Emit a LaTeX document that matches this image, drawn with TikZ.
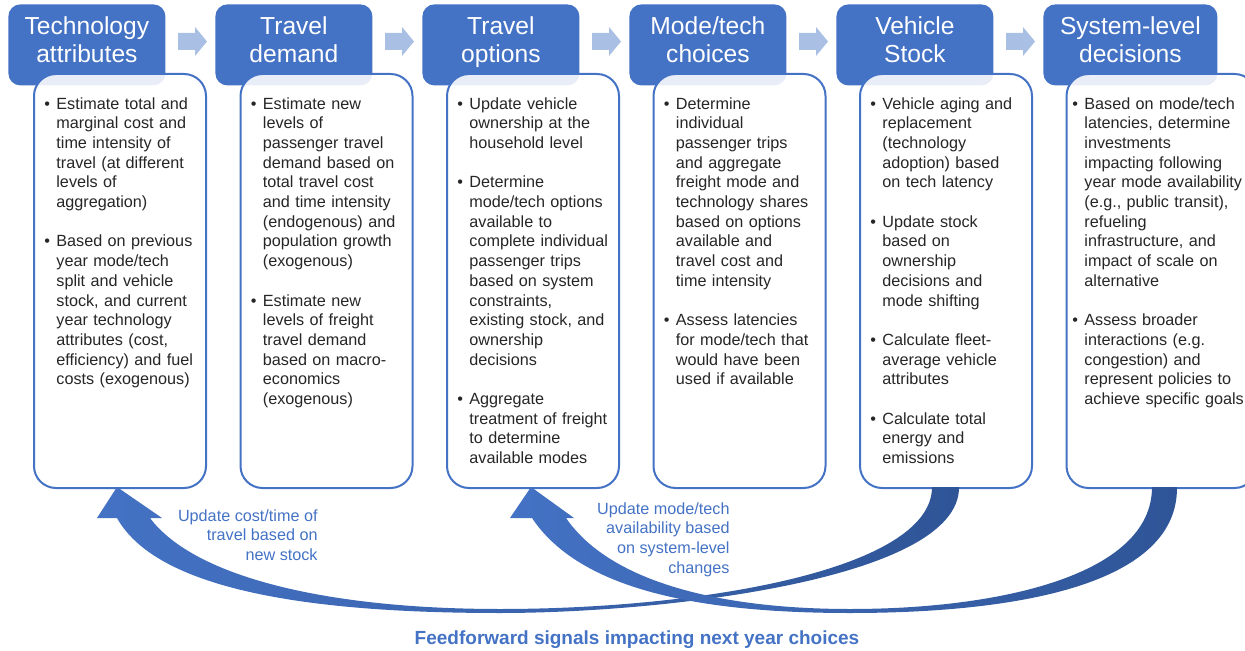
\documentclass[tikz,border=0pt]{standalone}
\usepackage{fontspec}
\setmainfont{Liberation Sans}
\usetikzlibrary{positioning}
\definecolor{hdrblue}{HTML}{4472C4}
\definecolor{darkblue}{HTML}{2F5597}
\definecolor{lightarrow}{HTML}{A9BFE4}
\definecolor{txtgray}{HTML}{262626}
\newcommand{\bitem}[1]{\par\hangindent=6pt\hangafter=1\noindent\makebox[6pt][l]{\textbullet}{\let\\\newline#1}\par}
\newcommand{\bgap}{\par\vspace{9.85pt}}

\begin{document}
\begin{tikzpicture}[x=0.5pt,y=-0.5pt,
    hdr/.style={fill=hdrblue, rounded corners=6pt, text=white, align=center,
      font=\fontsize{12.3}{14}\selectfont, minimum height=40.5pt, text depth=5pt,
      anchor=north west, inner sep=0pt},
    bodybox/.style={draw=hdrblue, line width=1pt, fill=white, fill opacity=0.88,
      rounded corners=11pt, anchor=north west, minimum width=86pt, minimum height=207pt},
    bodytxt/.style={anchor=north west, text width=100pt, inner sep=0pt, align=left,
      font=\fontsize{8.1}{9.85}\selectfont, text=txtgray},
    lbl/.style={text=hdrblue, align=right, inner sep=0pt, anchor=north east,
      font=\fontsize{8.1}{9.85}\selectfont}]
    \useasboundingbox (0,0) rectangle (1245,651);
    % stage headers
    \node[hdr, minimum width=78.5pt] (h1) at (8,4) {Technology\\attributes};
    \node[hdr, minimum width=78.5pt] (h2) at (215,4) {Travel\\demand};
    \node[hdr, minimum width=78.5pt] (h3) at (422,4) {Travel\\options};
    \node[hdr, minimum width=78.5pt] (h4) at (629,4) {Mode/tech\\choices};
    \node[hdr, minimum width=78.5pt] (h5) at (836,4) {Vehicle\\Stock};
    \node[hdr, minimum width=87pt] (h6) at (1043,4) {System-level\\decisions};
    % block arrows between stages
    \foreach \x in {178,385,592,799,1006}
        \fill[lightarrow] (\x,33) -- (\x+17,33) -- (\x+17,27) -- (\x+29,41.5)
            -- (\x+17,56) -- (\x+17,50) -- (\x,50) -- cycle;
    % detail boxes
    \node[bodybox] (b1) at (33,73) {};
    \node[bodybox] (b2) at (239.5,73) {};
    \node[bodybox] (b3) at (446,73) {};
    \node[bodybox] (b4) at (652.5,73) {};
    \node[bodybox] (b5) at (859,73) {};
    \node[bodybox, minimum width=95pt] (b6) at (1065.5,73) {};
    \node[bodytxt] (t1) at (44,89) {%
        \bitem{Estimate total and\\marginal cost and\\time intensity of\\travel (at different\\levels of\\aggregation)}\bgap
        \bitem{Based on previous\\year mode/tech\\split and vehicle\\stock, and current\\year technology\\attributes (cost,\\efficiency) and fuel\\costs (exogenous)}};
    \node[bodytxt] (t2) at (250.5,89) {%
        \bitem{Estimate new\\levels of\\passenger travel\\demand based on\\total travel cost\\and time intensity\\(endogenous) and\\population growth\\(exogenous)}\bgap
        \bitem{Estimate new\\levels of freight\\travel demand\\based on macro-\\economics\\(exogenous)}};
    \node[bodytxt] (t3) at (457,89) {%
        \bitem{Update vehicle\\ownership at the\\household level}\bgap
        \bitem{Determine\\mode/tech options\\available to\\complete individual\\passenger trips\\based on system\\constraints,\\existing stock, and\\ownership\\decisions}\bgap
        \bitem{Aggregate\\treatment of freight\\to determine\\available modes}};
    \node[bodytxt] (t4) at (663.5,89) {%
        \bitem{Determine\\individual\\passenger trips\\and aggregate\\freight mode and\\technology shares\\based on options\\available and\\travel cost and\\time intensity}\bgap
        \bitem{Assess latencies\\for mode/tech that\\would have been\\used if available}};
    \node[bodytxt] (t5) at (870,89) {%
        \bitem{Vehicle aging and\\replacement\\(technology\\adoption) based\\on tech latency}\bgap
        \bitem{Update stock\\based on\\ownership\\decisions and\\mode shifting}\bgap
        \bitem{Calculate fleet-\\average vehicle\\attributes}\bgap
        \bitem{Calculate total\\energy and\\emissions}};
    \node[bodytxt] (t6) at (1072,89) {%
        \bitem{Based on mode/tech\\latencies, determine\\investments\\impacting following\\year mode availability\\(e.g., public transit),\\refueling\\infrastructure, and\\impact of scale on\\alternative}\bgap
        \bitem{Assess broader\\interactions (e.g.\\congestion) and\\represent policies to\\achieve specific goals}};
    % feedback arrows
    \coordinate (tipA) at (117,487);
    \coordinate (tipB) at (531,487);
    \shade[left color=hdrblue, right color=darkblue] (tipA) -- (97,518) -- (117,518)
        .. controls (160,595) and (330,613) .. (500,613)
        .. controls (660,613) and (960,580) .. (959,487) -- (932,487)
        .. controls (932,570) and (700,609) .. (500,609)
        .. controls (330,609) and (195,578) .. (150,518) -- (162,518) -- cycle;
    \shade[left color=hdrblue, right color=darkblue] (tipB) -- (510,518) -- (532,518)
        .. controls (580,590) and (700,613) .. (850,613)
        .. controls (1000,613) and (1178,590) .. (1177,487) -- (1152,487)
        .. controls (1152,575) and (1000,609) .. (850,609)
        .. controls (720,609) and (610,582) .. (566,518) -- (574,518) -- cycle;
    \node[lbl] (l1) at (318,509) {Update cost/time of\\travel based on\\new stock};
    \node[lbl] (l2) at (730,502) {Update mode/tech\\availability based\\on system-level\\changes};
    \node[text=hdrblue, font=\fontsize{9.5}{11}\selectfont\bfseries] (ff) at (637,640)
        {Feedforward signals impacting next year choices};
\end{tikzpicture}
\end{document}
